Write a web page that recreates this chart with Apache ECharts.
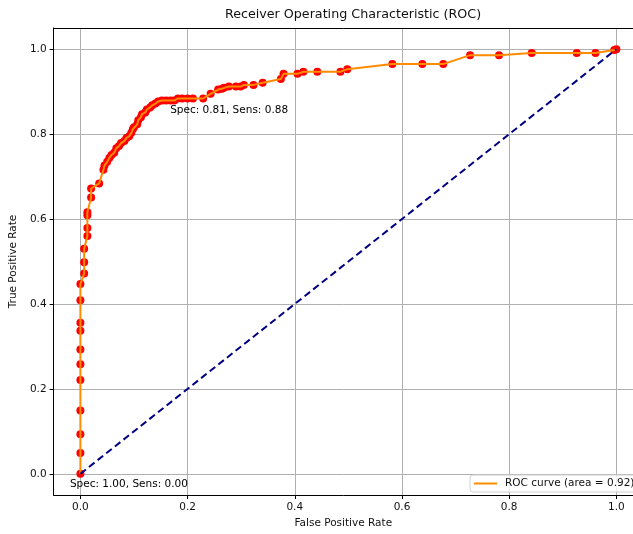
<!DOCTYPE html>
<html>
<head>
<meta charset="utf-8">
<script src="https://cdn.jsdelivr.net/npm/echarts@6/dist/echarts.min.js"></script>
<style>
html,body{margin:0;padding:0;background:#fff;}
#chart{width:633px;height:534px;}
</style>
</head>
<body>
<div id="chart"></div>
<script>
// ROC curve points
var rocFpr = [0,0,0,0,0,0,0,0,0,0,0,0.007,0.007,0.007,0.013,0.013,0.013,0.013,0.020,0.020,0.035,0.043,0.045,0.050,0.054,0.058,0.063,0.067,0.072,0.076,0.082,0.086,0.091,0.095,0.098,0.100,0.106,0.108,0.113,0.115,0.121,0.124,0.130,0.134,0.140,0.145,0.152,0.160,0.168,0.175,0.182,0.190,0.200,0.210,0.229,0.243,0.257,0.264,0.268,0.277,0.290,0.299,0.305,0.323,0.340,0.374,0.379,0.405,0.416,0.442,0.485,0.498,0.582,0.638,0.677,0.727,0.781,0.842,0.926,0.961,0.996,1.0];
var rocTpr = [0,0.049,0.093,0.149,0.221,0.258,0.293,0.337,0.356,0.409,0.447,0.472,0.498,0.530,0.560,0.579,0.609,0.616,0.651,0.672,0.684,0.716,0.726,0.735,0.744,0.751,0.756,0.767,0.772,0.779,0.784,0.791,0.795,0.803,0.812,0.816,0.823,0.833,0.840,0.847,0.851,0.858,0.863,0.868,0.872,0.877,0.879,0.879,0.879,0.879,0.884,0.884,0.884,0.884,0.884,0.895,0.905,0.907,0.909,0.912,0.912,0.912,0.916,0.916,0.921,0.930,0.942,0.942,0.947,0.947,0.947,0.953,0.965,0.965,0.965,0.986,0.986,0.991,0.991,0.991,0.998,1.0];
// chance diagonal
var diagFpr = [0, 1];
var diagTpr = [0, 1];
// annotations
var annoFpr = [0, 0.187];
var annoTpr = [0, 0.88];
var annoText = ['Spec: 1.00, Sens: 0.00', 'Spec: 0.81, Sens: 0.88'];
// ticks
var tickValues = [0, 0.2, 0.4, 0.6, 0.8, 1.0];
var legendName = 'ROC curve (area = 0.92)';

function zip(a, b) { return a.map(function (v, i) { return [v, b[i]]; }); }

var FONT = 'DejaVu Sans';
var FS = 10.5;
var chart = echarts.init(document.getElementById('chart'));

function axisCommon(max) {
  return {
    type: 'value', min: -0.05, max: max,
    axisLine: { show: true, onZero: false, lineStyle: { color: '#000', width: 1 } },
    axisTick: { show: true, inside: false, length: 4, lineStyle: { color: '#000' }, customValues: tickValues },
    axisLabel: { customValues: tickValues, fontFamily: FONT, fontSize: FS, color: '#111', margin: 7,
      formatter: function (v) { return v.toFixed(1); } },
    splitLine: { show: true, lineStyle: { color: '#b0b0b0', width: 1 } },
    nameLocation: 'middle',
    nameTextStyle: { fontFamily: FONT, fontSize: FS, color: '#111' }
  };
}

var xAx = axisCommon(1.031); xAx.name = 'False Positive Rate'; xAx.nameGap = 23;
var yAx = axisCommon(1.05); yAx.name = 'True Positive Rate'; yAx.nameGap = 26;
var xTop = {
  type: 'value', min: -0.05, max: 1.031, position: 'top',
  axisLine: { show: true, onZero: false, lineStyle: { color: '#000', width: 1 } },
  axisTick: { show: false }, axisLabel: { show: false }, splitLine: { show: false }
};

chart.setOption({
  animation: false,
  backgroundColor: '#fff',
  title: {
    text: 'Receiver Operating Characteristic (ROC)',
    left: 348, top: 3, textAlign: 'center',
    textStyle: { fontFamily: FONT, fontSize: 12.7, fontWeight: 'normal', color: '#111' }
  },
  grid: { left: 52, top: 28, width: 581, height: 470, show: false, containLabel: false },
  legend: {
    data: [{ name: legendName, icon: 'rect' }], left: 470, top: 475,
    orient: 'vertical', padding: [3, 6, 3, 4],
    itemWidth: 23, itemHeight: 2, itemGap: 0,
    backgroundColor: 'rgba(255,255,255,0.8)', borderColor: '#d0d0d0', borderWidth: 1, borderRadius: 3,
    textStyle: { fontFamily: FONT, fontSize: FS, color: '#111', padding: [0, 0, 0, 3] }
  },
  xAxis: [xAx, xTop],
  yAxis: yAx,
  series: [
    {
      name: 'points', type: 'scatter', z: 2, symbol: 'circle', symbolSize: 8,
      itemStyle: { color: '#ff0000', opacity: 1 },
      data: zip(rocFpr, rocTpr), silent: true
    },
    {
      name: legendName, type: 'line', z: 3, symbol: 'none',
      lineStyle: { color: '#ff8c00', width: 2 }, itemStyle: { color: '#ff8c00' },
      data: zip(rocFpr, rocTpr)
    },
    {
      name: 'diag', type: 'line', z: 4, symbol: 'none',
      lineStyle: { color: '#000080', width: 2, type: [7, 4] },
      data: zip(diagFpr, diagTpr)
    },
    {
      name: 'anno', type: 'scatter', z: 5, symbolSize: 1, itemStyle: { color: 'rgba(0,0,0,0)' },
      data: zip(annoFpr, annoTpr).map(function (p, i) { return { value: p, name: annoText[i] }; }),
      label: { show: true, position: [-10, 5], align: 'left', verticalAlign: 'top',
        formatter: function (p) { return p.name; },
        fontFamily: FONT, fontSize: FS, color: '#000', opacity: 1 }
    }
  ]
});
</script>
</body>
</html>
